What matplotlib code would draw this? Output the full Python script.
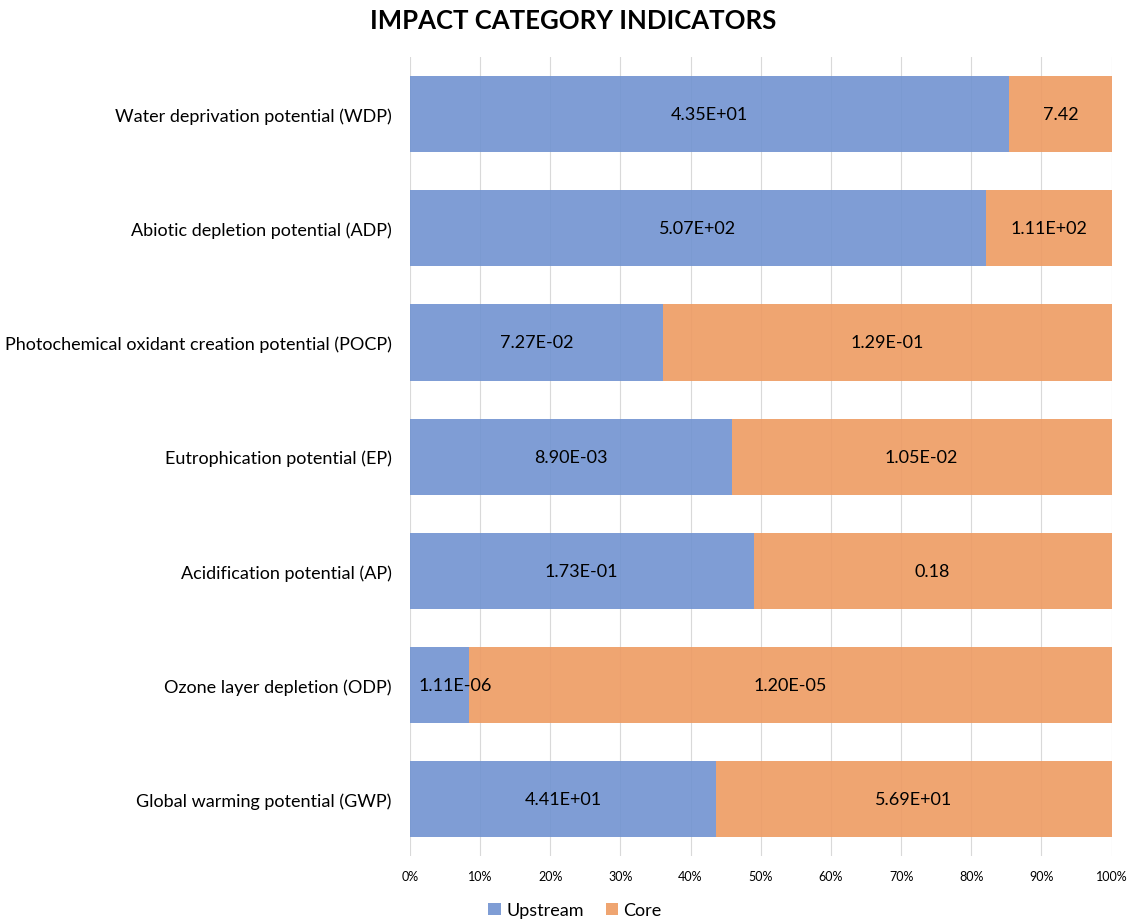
import matplotlib.pyplot as plt
import numpy as np

plt.rcParams['font.family'] = ['Lato', 'DejaVu Sans']

categories = ['Water deprivation potential (WDP)',
              'Abiotic depletion potential (ADP)',
              'Photochemical oxidant creation potential (POCP)',
              'Eutrophication potential (EP)',
              'Acidification potential (AP)',
              'Ozone layer depletion (ODP)',
              'Global warming potential (GWP)']

upstream = [43.5, 507, 0.0727, 0.0089, 0.173, 1.11e-06, 44.1]
core = [7.42, 111, 0.129, 0.0105, 0.18, 1.20e-05, 56.9]

upstream_labels = ['4.35E+01', '5.07E+02', '7.27E-02', '8.90E-03', '1.73E-01', '1.11E-06', '4.41E+01']
core_labels = ['7.42', '1.11E+02', '1.29E-01', '1.05E-02', '0.18', '1.20E-05', '5.69E+01']

# semi-transparent bars so the grid shows faintly through them
col_up = '#7193D1'
col_core = '#EE9B62'

up = np.array(upstream)
co = np.array(core)
total = up + co
up_pct = up / total
co_pct = co / total

fig = plt.figure(figsize=(11.32, 9.2), dpi=100)
ax = fig.add_axes([0.362, 0.068, 0.62, 0.869])

y = np.arange(len(categories))[::-1]
ax.barh(y, up_pct, height=0.667, color=col_up, alpha=0.9, label='Upstream', zorder=2)
ax.barh(y, co_pct, left=up_pct, height=0.667, color=col_core, alpha=0.9, label='Core', zorder=2)

for i in range(len(categories)):
    # keep narrow-segment labels from spilling off the left edge
    ax.text(max(up_pct[i] / 2, 0.065), y[i], upstream_labels[i], ha='center', va='center', fontsize=13)
    ax.text(up_pct[i] + co_pct[i] / 2, y[i], core_labels[i], ha='center', va='center', fontsize=13)

ax.set_xlim(0, 1)
ax.set_ylim(-0.5, len(categories) - 0.5)
ax.set_yticks(y)
ax.set_yticklabels(categories, fontsize=13)
ax.set_xticks(np.arange(0, 1.01, 0.1))
ax.set_xticklabels([f'{int(round(t * 100))}%' for t in np.arange(0, 1.01, 0.1)], fontsize=9)
ax.tick_params(axis='both', length=0)
ax.tick_params(axis='x', pad=10)
ax.tick_params(axis='y', pad=13)
ax.grid(axis='x', color='#D9D9D9', linewidth=0.8, zorder=0)
for s in ax.spines.values():
    s.set_visible(False)

fig.suptitle('IMPACT CATEGORY INDICATORS', fontsize=18.5, fontweight='bold', x=0.506, y=0.99, va='top')
fig.legend(loc='lower center', bbox_to_anchor=(0.508, -0.017), ncol=2, frameon=False, fontsize=13,
           handlelength=0.7, handleheight=0.7, handletextpad=0.3, columnspacing=1.2)

fig.savefig('out.png', dpi=100)
